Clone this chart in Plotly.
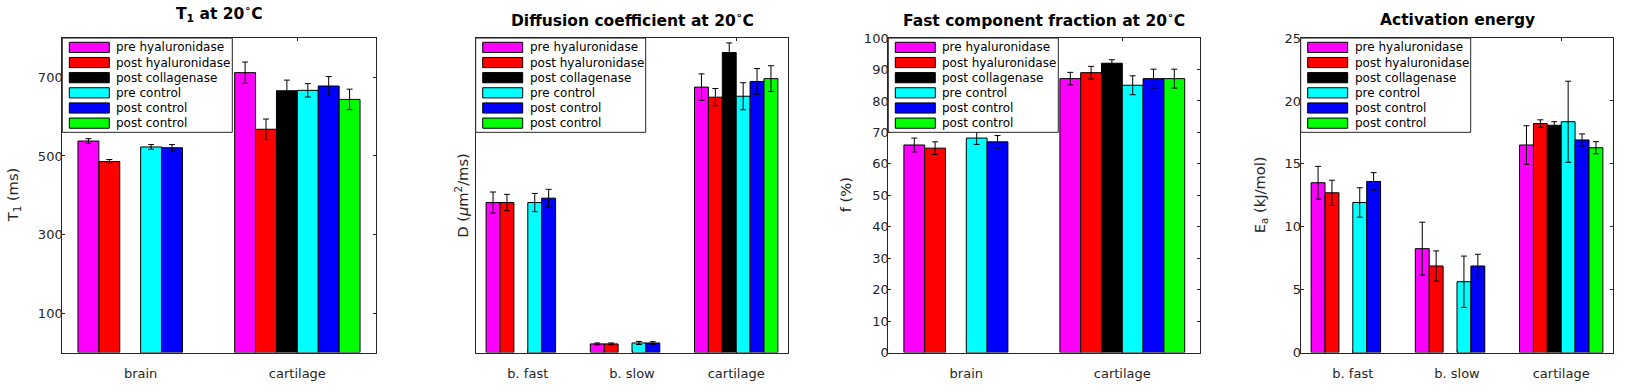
import plotly.graph_objects as go

# ---------------- data ----------------
series_names = ["pre hyaluronidase", "post hyaluronidase", "post collagenase",
                "pre control", "post control", "post control"]
series_colors = ["#FF00FF", "#FF0000", "#000000", "#00FFFF", "#0000FF", "#00FF00"]

t1_categories = ["brain", "cartilage"]
t1_values = [[538, 712], [486, 568], [None, 666], [523, 667], [521, 678], [None, 644]]
t1_errors = [[6, 27], [5, 26], [None, 27], [6, 17], [8, 24], [None, 26]]

d_categories = ["b. fast", "b. slow", "cartilage"]
d_values = [[0.954, 0.055, 1.688], [0.954, 0.055, 1.624], [None, None, 1.908],
            [0.954, 0.061, 1.630], [0.982, 0.061, 1.724], [None, None, 1.742]]
d_errors = [[0.067, 0.006, 0.084], [0.052, 0.006, 0.055], [None, None, 0.061],
            [0.058, 0.010, 0.086], [0.056, 0.008, 0.082], [None, None, 0.082]]

f_categories = ["brain", "cartilage"]
f_values = [[66.0, 87.1], [65.0, 89.0], [None, 92.0], [68.2, 85.0], [67.0, 87.1], [None, 87.1]]
f_errors = [[2.2, 2.0], [2.0, 2.0], [None, 1.1], [2.0, 3.0], [2.0, 3.0], [None, 3.0]]

ea_categories = ["b. fast", "b. slow", "cartilage"]
ea_values = [[13.5, 8.26, 16.5], [12.7, 6.88, 18.2], [None, None, 18.07],
             [11.93, 5.63, 18.35], [13.6, 6.88, 16.9], [None, None, 16.28]]
ea_errors = [[1.3, 2.1, 1.53], [1.0, 1.2, 0.3], [None, None, 0.28],
             [1.17, 2.04, 3.22], [0.7, 0.93, 0.48], [None, None, 0.48]]

panel_titles = ["T<sub>1</sub> at 20<sup>∘</sup>C", "Diffusion coefficient at 20<sup>∘</sup>C",
                "Fast component fraction at 20<sup>∘</sup>C", "Activation energy"]
panel_ylabels = ["T<sub>1</sub> (ms)", "D (<i>μ</i>m<sup>2</sup>/ms)", "f (%)", "E<sub>a</sub> (kJ/mol)"]

# ---------------- layout geometry (pixels) ----------------
FIG_W, FIG_H = 1630, 392
AX_X = [(62.3, 375.7), (475.7, 788.3), (888.3, 1200.3), (1300.7, 1613.3)]
AX_TOP, AX_BOT = 32.3, 359.3
AX_H = AX_BOT - AX_TOP
YLABEL_X = [13, 461.5, 845, 1260]
TITLE_Y = [7, 13, 13, 13]
FONT = "DejaVu Sans"
AXCOL = "#262626"

panels = [
    (t1_categories, t1_values, t1_errors, dict(range=[0, 800], tickvals=[100, 300, 500, 700])),
    (d_categories, d_values, d_errors, dict(range=[0, 2], showticklabels=False, ticks="")),
    (f_categories, f_values, f_errors, dict(range=[0, 100], dtick=10, tick0=0)),
    (ea_categories, ea_values, ea_errors, dict(range=[0, 25], dtick=5, tick0=0)),
]

fig = go.Figure()
layout = dict(width=FIG_W, height=FIG_H, margin=dict(l=0, r=0, t=0, b=0),
              paper_bgcolor="white", plot_bgcolor="white",
              barmode="group", bargap=0.2, bargroupgap=0, showlegend=False,
              font=dict(family=FONT, color=AXCOL))
shapes = []
annotations = []

for i, (cats, vals, errs, yopts) in enumerate(panels):
    n = i + 1
    xa = "x" if n == 1 else f"x{n}"
    ya = "y" if n == 1 else f"y{n}"
    for s in range(len(series_names)):
        fig.add_trace(go.Bar(
            x=cats, y=vals[s], name=series_names[s],
            marker=dict(color=series_colors[s], line=dict(color="black", width=1)),
            error_y=dict(type="data", array=errs[s], visible=True, color="black",
                         thickness=1, width=3),
            xaxis=xa, yaxis=ya, showlegend=False,
        ))
    x0, x1 = AX_X[i]
    axw = x1 - x0
    layout[f"xaxis{'' if n == 1 else n}"] = dict(
        domain=[x0 / FIG_W, x1 / FIG_W], anchor=ya, type="category",
        range=[-0.5, len(cats) - 0.5], showline=True, linecolor=AXCOL, linewidth=1,
        mirror="ticks", ticks="inside", ticklen=3, tickcolor=AXCOL, showgrid=False,
        zeroline=False, tickfont=dict(size=13, color=AXCOL, family=FONT), fixedrange=True,
        ticklabelstandoff=9)
    yax = dict(
        domain=[1 - AX_BOT / FIG_H, 1 - AX_TOP / FIG_H], anchor=xa,
        showline=True, linecolor=AXCOL, linewidth=1, mirror="ticks", ticks="inside",
        ticklen=3, tickcolor=AXCOL, showgrid=False, zeroline=False,
        tickfont=dict(size=13, color=AXCOL, family=FONT), fixedrange=True,
        ticklabelstandoff=-4)
    yax.update(yopts)
    if yopts.get("ticks") == "":
        yax["mirror"] = True
    layout[f"yaxis{'' if n == 1 else n}"] = yax

    # title and y label
    annotations.append(dict(text=f"<b>{panel_titles[i]}</b>", xref="paper", yref="paper",
                            x=(x0 + x1) / 2 / FIG_W, y=1 - TITLE_Y[i] / FIG_H,
                            xanchor="center", yanchor="middle", showarrow=False,
                            font=dict(size=15.5, color="black", family=FONT)))
    annotations.append(dict(text=panel_ylabels[i], xref="paper", yref="paper",
                            x=YLABEL_X[i] / FIG_W, y=1 - (AX_TOP + AX_BOT) / 2 / FIG_H,
                            xanchor="center", yanchor="middle", textangle=-90,
                            showarrow=False, font=dict(size=14.7, color=AXCOL, family=FONT)))

    # legend box (drawn inside the axes, top-left corner)
    xd, yd = f"{xa} domain", f"{ya} domain"
    shapes.append(dict(type="rect", xref=xd, yref=yd, x0=0, x1=170 / axw,
                       y0=1 - 98 / AX_H, y1=1, fillcolor="white",
                       line=dict(color=AXCOL, width=1), layer="above"))
    for s in range(len(series_names)):
        cy = 9.7 + 15.75 * s
        shapes.append(dict(type="rect", xref=xd, yref=yd, x0=7 / axw, x1=47 / axw,
                           y0=1 - (cy + 5.3) / AX_H, y1=1 - (cy - 5.3) / AX_H,
                           fillcolor=series_colors[s], line=dict(color="black", width=1),
                           layer="above"))
        annotations.append(dict(text=series_names[s], xref=xd, yref=yd,
                                x=52 / axw, y=1 - cy / AX_H, xanchor="left", yanchor="middle",
                                showarrow=False, font=dict(size=12, color="black", family=FONT)))

layout["shapes"] = shapes
layout["annotations"] = annotations
fig.update_layout(**layout)
fig.write_html("out.html", config={"displayModeBar": False},
               post_script="document.body.style.margin='0px';")
